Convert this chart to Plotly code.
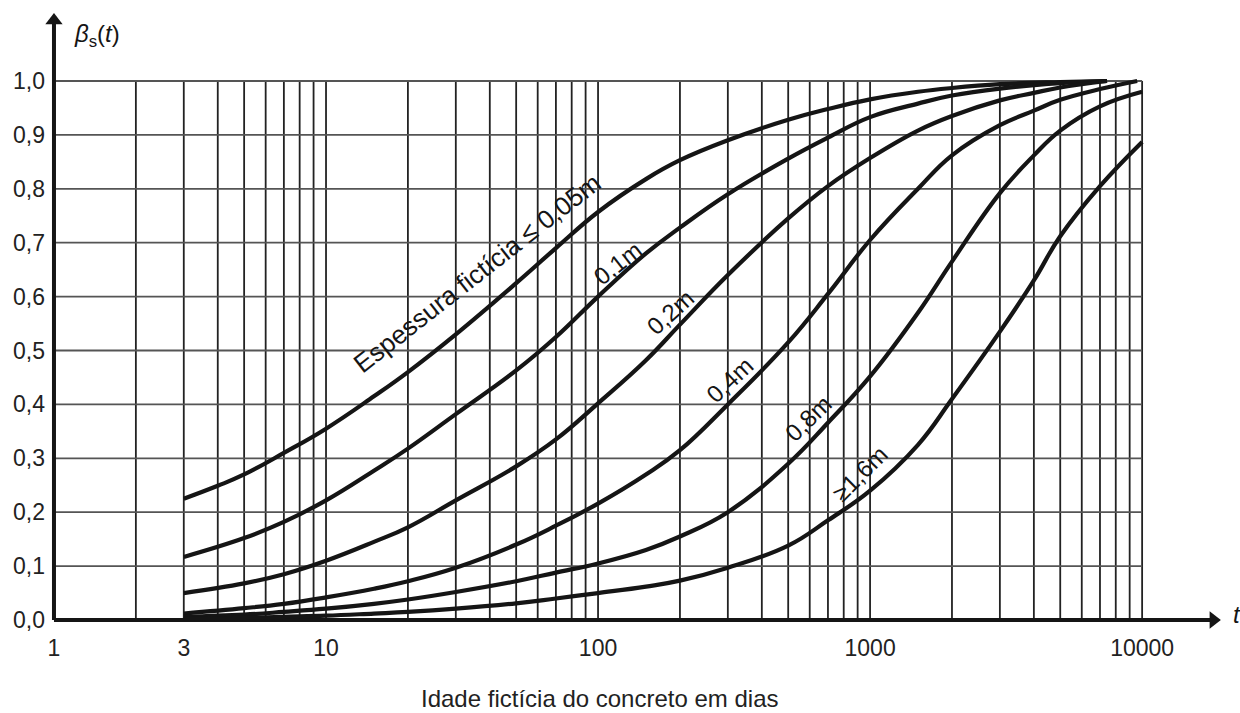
import math
import plotly.graph_objects as go

# ---------------- data ----------------
t_005 = [3, 4, 5, 7, 10, 15, 20, 30, 50, 70, 100, 150, 200, 300, 500, 700, 1000, 1500, 2000, 3000, 5000, 7430]
b_005 = [0.225, 0.249, 0.27, 0.31, 0.355, 0.415, 0.46, 0.53, 0.625, 0.69, 0.757, 0.818, 0.853, 0.89, 0.928, 0.948, 0.966, 0.98, 0.987, 0.994, 0.998, 1.0]

t_01 = [3, 5, 7, 10, 15, 20, 30, 50, 70, 100, 150, 200, 300, 500, 700, 1000, 1500, 2000, 3000, 5000, 7430]
b_01 = [0.117, 0.152, 0.182, 0.222, 0.277, 0.318, 0.382, 0.463, 0.525, 0.6, 0.68, 0.728, 0.79, 0.856, 0.895, 0.933, 0.958, 0.973, 0.986, 0.996, 1.0]

t_02 = [3, 5, 7, 10, 15, 20, 30, 50, 70, 100, 150, 200, 300, 500, 700, 1000, 1500, 2000, 3000, 4000, 5000, 7430]
b_02 = [0.05, 0.068, 0.085, 0.11, 0.145, 0.172, 0.222, 0.285, 0.335, 0.402, 0.482, 0.548, 0.64, 0.745, 0.805, 0.857, 0.908, 0.935, 0.964, 0.978, 0.988, 1.0]

t_04 = [3, 5, 7, 10, 15, 20, 30, 50, 70, 100, 150, 200, 300, 500, 700, 1000, 1500, 2000, 3000, 4000, 5000, 7000, 9590]
b_04 = [0.012, 0.022, 0.03, 0.042, 0.058, 0.072, 0.097, 0.14, 0.175, 0.216, 0.27, 0.315, 0.40, 0.515, 0.605, 0.705, 0.80, 0.862, 0.918, 0.945, 0.965, 0.985, 1.0]

t_08 = [3, 5, 7, 10, 15, 20, 30, 50, 70, 100, 150, 200, 300, 500, 700, 1000, 1500, 2000, 3000, 4000, 5000, 7000, 10000]
b_08 = [0.006, 0.01, 0.015, 0.021, 0.03, 0.038, 0.052, 0.072, 0.088, 0.105, 0.13, 0.155, 0.2, 0.29, 0.366, 0.452, 0.57, 0.665, 0.792, 0.862, 0.908, 0.953, 0.98]

t_16 = [3, 5, 7, 10, 15, 20, 30, 50, 70, 100, 150, 200, 300, 500, 700, 1000, 1500, 2000, 3000, 4000, 5000, 7000, 10000]
b_16 = [0.002, 0.004, 0.006, 0.008, 0.012, 0.015, 0.021, 0.031, 0.04, 0.05, 0.062, 0.073, 0.097, 0.138, 0.185, 0.24, 0.325, 0.41, 0.535, 0.63, 0.712, 0.805, 0.887]

curve_labels = ["Espessura fictícia ≤ 0,05m", "0,1m", "0,2m", "0,4m", "0,8m", "≥1,6m"]

x_tick_vals = [1, 3, 10, 100, 1000, 10000]
x_tick_text = ["1", "3", "10", "100", "1000", "10000"]
y_tick_vals = [0.0, 0.1, 0.2, 0.3, 0.4, 0.5, 0.6, 0.7, 0.8, 0.9, 1.0]
y_tick_text = ["0,0", "0,1", "0,2", "0,3", "0,4", "0,5", "0,6", "0,7", "0,8", "0,9", "1,0"]

grid_t = [m * 10 ** k for k in range(0, 4) for m in range(2, 11)]
grid_b = [0.1, 0.2, 0.3, 0.4, 0.5, 0.6, 0.7, 0.8, 0.9, 1.0]

# ---------------- placement (layout only) ----------------
label_t = [36.0, 117.5, 184, 303, 592, 919]
label_b = [0.643, 0.662, 0.570, 0.445, 0.373, 0.271]
label_angle = [-38, -38, -42, -43, -44, -45]
label_size = [26, 24, 24, 24, 24, 24]

FONT = "Liberation Sans, Arial, sans-serif"
INK = "#151515"

fig = go.Figure()

# vertical grid
gx, gy = [], []
for t in grid_t:
    gx += [t, t, None]
    gy += [0, 1, None]
fig.add_trace(go.Scatter(x=gx, y=gy, mode="lines", line=dict(color="#222222", width=1.8),
                         hoverinfo="skip", showlegend=False))
# horizontal grid
hx, hy = [], []
for b in grid_b:
    hx += [1, 10000, None]
    hy += [b, b, None]
fig.add_trace(go.Scatter(x=hx, y=hy, mode="lines", line=dict(color="#555555", width=1.8),
                         hoverinfo="skip", showlegend=False))

# axis lines with arrowheads
fig.add_trace(go.Scatter(x=[1, 10 ** 4.262], y=[0, 0], mode="lines",
                         line=dict(color=INK, width=4), hoverinfo="skip", showlegend=False))
fig.add_trace(go.Scatter(x=[1, 1], y=[0, 1.112], mode="lines",
                         line=dict(color=INK, width=4), hoverinfo="skip", showlegend=False))
fig.add_trace(go.Scatter(x=[10 ** 4.262], y=[0], mode="markers",
                         marker=dict(symbol="triangle-right", size=15, color=INK, line=dict(width=0)),
                         hoverinfo="skip", showlegend=False, cliponaxis=False))
fig.add_trace(go.Scatter(x=[1], y=[1.112], mode="markers",
                         marker=dict(symbol="triangle-up", size=15, color=INK, line=dict(width=0)),
                         hoverinfo="skip", showlegend=False, cliponaxis=False))

# curves
for tt, bb in [(t_005, b_005), (t_01, b_01), (t_02, b_02), (t_04, b_04), (t_08, b_08), (t_16, b_16)]:
    fig.add_trace(go.Scatter(x=tt, y=bb, mode="lines",
                             line=dict(color=INK, width=4.2, shape="spline", smoothing=1.2),
                             hoverinfo="skip", showlegend=False))

annotations = []
for txt, lt, lb, ang, sz in zip(curve_labels, label_t, label_b, label_angle, label_size):
    annotations.append(dict(x=math.log10(lt), y=lb, xref="x", yref="y", text=txt,
                            textangle=ang, showarrow=False, xanchor="center", yanchor="middle",
                            font=dict(family=FONT, size=sz, color=INK)))

# axis names
annotations.append(dict(x=1.011, y=0.011, xref="paper", yref="y", text="<i>t</i>", showarrow=False,
                        xanchor="center", yanchor="middle", font=dict(family=FONT, size=24, color=INK)))
annotations.append(dict(x=0.0417, y=1.0835, xref="paper", yref="y",
                        text="<i>β</i><sub>s</sub>(<i>t</i>)", showarrow=False,
                        xanchor="center", yanchor="middle", font=dict(family=FONT, size=24, color=INK)))
annotations.append(dict(x=0.469, y=-0.1185, xref="paper", yref="paper",
                        text="Idade fictícia do concreto em dias", showarrow=False,
                        xanchor="center", yanchor="middle", font=dict(family=FONT, size=24, color="#222222")))

fig.update_layout(
    width=1240, height=713,
    margin=dict(l=48, r=16, t=10, b=87),
    paper_bgcolor="white", plot_bgcolor="white",
    showlegend=False,
    annotations=annotations,
    xaxis=dict(type="log", range=[-0.022, 4.301], showgrid=False, zeroline=False, showline=False,
               tickmode="array", tickvals=x_tick_vals, ticktext=x_tick_text, ticks="",
               ticklabelstandoff=6,
               tickfont=dict(family=FONT, size=23, color="#222222")),
    yaxis=dict(range=[-0.0111, 1.1317], showgrid=False, zeroline=False, showline=False,
               tickmode="array", tickvals=y_tick_vals, ticktext=y_tick_text, ticks="",
               ticklabelstandoff=2,
               tickfont=dict(family=FONT, size=23, color="#222222")),
)

fig.write_html("out.html", config={"displayModeBar": False},
               post_script="document.body.style.margin='0';")
